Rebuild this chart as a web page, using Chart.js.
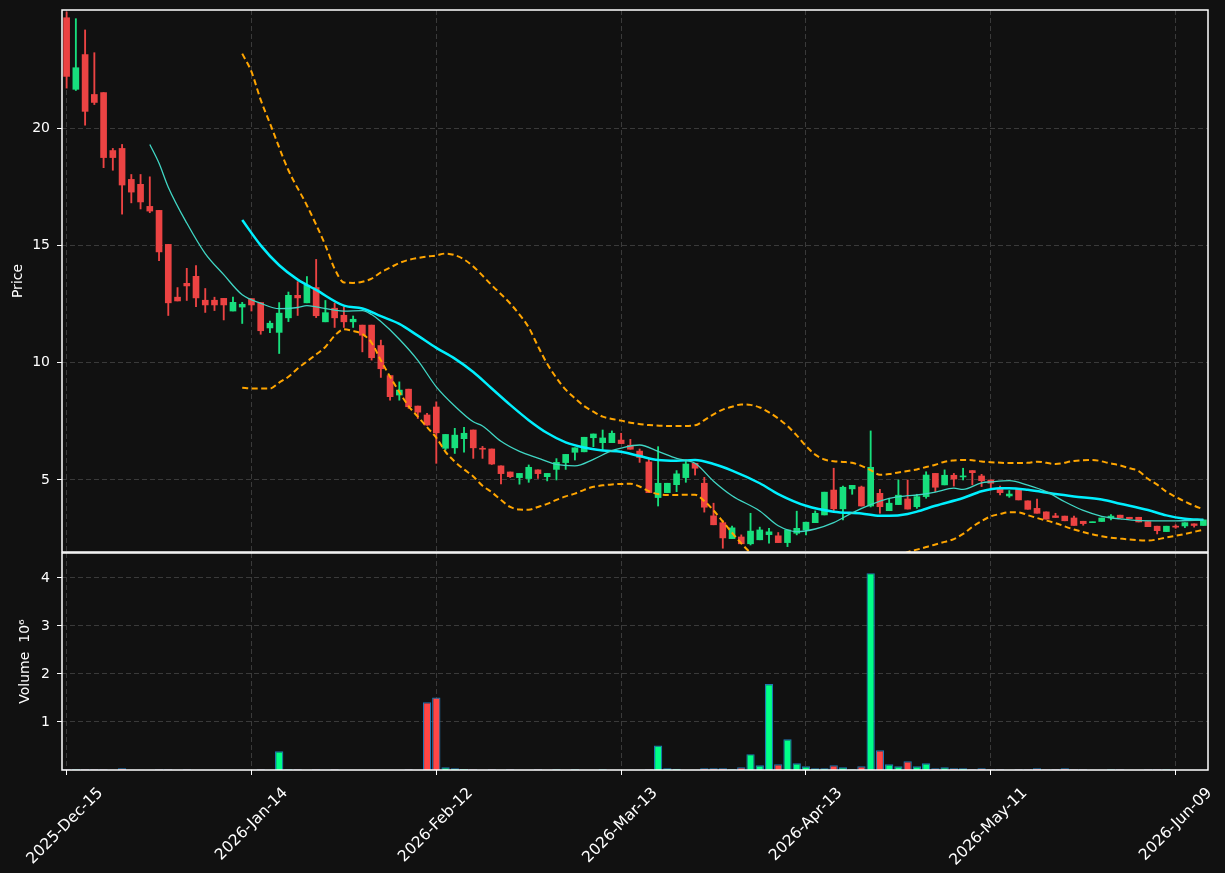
<!DOCTYPE html>
<html>
<head>
<meta charset="utf-8">
<script src="https://cdn.jsdelivr.net/npm/chart.js@4.4.1/dist/chart.umd.min.js"></script>
<style>
  body { margin: 0; background: #111111; }
  #wrap { position: relative; width: 1225px; height: 873px; }
  canvas { position: absolute; left: 0; }
</style>
</head>
<body>
<div id="wrap">
  <canvas id="price" width="1225" height="553" style="top:0"></canvas>
  <canvas id="volume" width="1225" height="321" style="top:552px"></canvas>
</div>
<script>
// --- DATA ---
const opens = [24.70,21.65,23.13,21.43,21.51,19.04,19.13,17.81,17.60,16.66,
  16.49,15.04,12.79,13.38,13.68,12.66,12.66,12.74,12.20,12.37,
  12.73,12.56,11.48,11.29,11.91,12.87,12.55,13.20,11.74,12.32,
  12.02,11.74,11.60,11.60,10.73,9.45,8.62,8.87,8.15,7.77,
  8.11,6.35,6.37,6.76,7.13,6.35,6.32,5.60,5.34,5.10,
  5.06,5.43,5.14,5.45,5.74,6.18,6.20,6.80,6.59,6.59,
  6.70,6.48,6.23,5.77,4.25,4.46,4.80,5.10,5.71,4.86,
  3.47,3.18,2.50,2.57,2.28,2.45,2.67,2.62,2.33,2.73,
  2.87,3.18,3.51,4.57,3.77,4.62,4.70,3.89,4.43,3.69,
  3.95,4.19,3.86,4.29,5.28,4.79,5.20,5.13,5.40,5.17,
  5.00,4.65,4.32,4.62,4.11,3.79,3.64,3.47,3.46,3.38,
  3.24,3.18,3.23,3.38,3.50,3.41,3.41,3.23,3.03,2.80,
  3.03,3.04,3.13,3.06];
const highs = [24.95,24.66,24.18,23.21,21.51,19.13,19.30,18.02,18.02,17.92,
  16.49,15.04,13.20,14.02,14.14,13.16,12.79,12.74,12.79,12.57,
  12.73,12.56,11.77,12.56,13.01,13.45,13.67,14.40,12.65,12.54,
  12.37,11.99,11.60,11.60,10.96,9.45,9.18,8.87,8.15,7.84,
  8.33,6.94,7.20,7.24,7.13,6.43,6.32,5.60,5.34,5.28,
  5.64,5.43,5.28,5.91,6.09,6.37,6.82,6.96,7.13,7.09,
  6.99,6.73,6.32,5.92,6.42,4.86,5.40,5.85,5.71,5.11,
  4.01,3.26,3.04,2.66,3.58,2.99,2.94,2.76,2.87,3.67,
  3.20,3.68,4.48,5.50,4.74,4.77,4.74,7.09,4.60,4.22,
  5.00,5.00,4.39,5.35,5.28,5.43,5.28,5.50,5.40,5.24,
  5.00,4.74,4.55,4.62,4.11,4.19,3.64,3.58,3.46,3.46,
  3.24,3.21,3.38,3.52,3.50,3.41,3.41,3.23,3.03,3.03,
  3.09,3.18,3.13,3.30];
const lows = [21.70,21.60,20.12,21.00,18.31,18.20,16.33,16.81,16.55,16.39,
  14.35,12.01,12.63,12.65,12.39,12.14,12.22,11.82,12.20,11.67,
  12.20,11.21,11.28,10.39,11.75,12.01,12.55,11.92,11.74,11.50,
  11.50,11.50,10.46,10.11,9.37,8.40,8.40,8.05,7.62,7.34,
  5.71,6.28,6.13,6.18,5.92,5.92,5.66,4.83,5.10,4.82,
  4.90,5.07,4.96,5.00,5.45,5.85,6.20,6.42,6.28,6.59,
  6.55,6.31,5.75,4.46,3.89,4.46,4.50,4.90,5.21,3.63,
  3.09,2.09,2.50,2.28,2.23,2.45,2.31,2.33,2.16,2.66,
  2.66,3.18,3.51,3.68,3.30,4.39,3.89,3.85,3.58,3.69,
  3.95,3.76,3.79,4.22,4.50,4.79,4.74,5.00,4.79,4.72,
  4.65,4.36,4.26,4.15,3.75,3.58,3.33,3.40,3.26,3.06,
  3.07,3.18,3.23,3.30,3.38,3.35,3.21,3.01,2.70,2.80,
  2.94,2.97,2.99,3.06];
const closes = [22.20,22.57,20.71,21.09,18.74,18.74,17.57,17.27,16.85,16.46,
  14.72,12.55,12.63,13.27,12.76,12.46,12.46,12.46,12.57,12.49,
  12.46,11.36,11.68,12.11,12.87,12.76,13.30,12.00,12.13,11.91,
  11.74,11.85,11.17,10.21,9.74,8.55,8.83,8.12,7.89,7.34,
  7.01,6.94,6.91,6.99,6.37,6.31,5.68,5.27,5.14,5.28,
  5.54,5.27,5.28,5.75,6.09,6.37,6.82,6.96,6.79,6.99,
  6.55,6.31,5.96,4.46,4.86,4.86,5.26,5.68,5.50,3.84,
  3.09,2.53,2.96,2.28,2.82,2.87,2.79,2.33,2.87,2.94,
  3.20,3.58,4.48,3.77,4.69,4.77,3.89,5.54,3.86,4.01,
  4.35,3.76,4.29,5.21,4.69,5.20,5.04,5.16,5.31,4.97,
  4.86,4.46,4.40,4.15,3.75,3.58,3.33,3.40,3.26,3.06,
  3.14,3.21,3.38,3.46,3.38,3.35,3.21,3.01,2.84,3.03,
  2.99,3.18,3.06,3.30];
// volume in millions
const volumesM = [0.015,0.015,0.015,0.015,0.015,0.003,0.035,0.003,0.003,0.003,
  0.015,0.015,0.003,0.015,0.003,0.003,0.003,0.003,0.003,0.003,
  0.003,0.015,0.003,0.39,0.015,0.015,0.003,0.015,0.003,0.015,
  0.003,0.003,0.003,0.003,0.003,0.003,0.003,0.015,0.003,1.41,
  1.51,0.055,0.035,0.02,0.015,0.003,0.015,0.003,0.015,0.003,
  0.003,0.015,0.003,0.015,0.003,0.015,0.003,0.003,0.015,0.003,
  0.003,0.003,0.003,0.015,0.51,0.035,0.025,0.003,0.003,0.035,
  0.035,0.035,0.015,0.055,0.33,0.10,1.79,0.12,0.64,0.14,
  0.076,0.035,0.035,0.10,0.055,0.015,0.076,4.10,0.41,0.12,
  0.076,0.18,0.076,0.14,0.035,0.055,0.035,0.035,0.015,0.035,
  0.015,0.015,0.003,0.015,0.015,0.035,0.015,0.015,0.035,0.015,
  0.015,0.003,0.003,0.015,0.015,0.003,0.003,0.015,0.015,0.015,
  0.003,0.003,0.003,0.003];

// indicator lines, read as [candle index, value]
const ma10 = [[9,19.30],[10,18.50],[11,17.48],[13,15.95],[15,14.65],[17,13.75],[19,12.89],[21,12.53],
  [23,12.30],[25,12.35],[26,12.43],[27,12.38],[30,12.20],[32,12.22],[33,12.05],[34,11.75],[36,11.0],
  [38,10.1],[40,8.97],[42,8.15],[44,7.48],[45,7.30],[47,6.65],[49,6.22],[51,5.93],[53,5.66],[55,5.60],
  [57,5.88],[59,6.25],[60,6.36],[62,6.49],[64,6.22],[66,5.92],[68,5.71],[70,4.95],[72,4.33],[75,3.68],
  [77,3.05],[79,2.80],[81,2.91],[83,3.18],[85,3.60],[87,3.95],[89,4.22],[91,4.33],[92,4.36],[94,4.48],
  [96,4.65],[97,4.60],[99,4.88],[100,4.92],[102,4.97],[104,4.78],[106,4.50],[108,4.07],[110,3.70],
  [112,3.45],[114,3.34],[116,3.27],[120,3.26],[123,3.30]];
const ma20 = [[19,16.08],[21,15.0],[23,14.15],[25,13.54],[27,13.10],[30,12.43],[32,12.31],[34,11.98],
  [36,11.65],[38,11.15],[40,10.63],[42,10.17],[44,9.6],[46,8.9],[48,8.2],[50,7.55],[52,7.0],[54,6.6],
  [56,6.38],[58,6.26],[60,6.20],[62,6.02],[64,5.85],[66,5.82],[68,5.85],[70,5.68],[72,5.40],[75,4.86],
  [77,4.40],[80,3.90],[83,3.65],[86,3.57],[88,3.47],[89,3.47],[91,3.55],[92,3.65],[94,3.90],[97,4.23],
  [99,4.52],[101,4.65],[102,4.65],[104,4.58],[107,4.40],[109,4.30],[112,4.17],[114,3.99],[117,3.72],
  [119,3.49],[121,3.35],[123,3.30]];
const bbUpper = [[19,23.17],[20,22.4],[21,21.2],[22,20.2],[24,18.2],[26,16.7],[28,15.0],[29,14.0],
  [30,13.42],[31,13.40],[32,13.45],[33,13.58],[34,13.85],[35,14.05],[36,14.25],[37,14.38],[38,14.46],
  [39,14.52],[40,14.57],[41,14.65],[42,14.58],[43,14.40],[44,14.10],[46,13.30],[48,12.52],[49,12.05],
  [50,11.50],[51,10.70],[52,9.95],[53,9.35],[54,8.85],[55,8.48],[56,8.15],[57,7.91],[58,7.70],[59,7.60],
  [60,7.53],[61,7.44],[63,7.34],[66,7.30],[68,7.33],[69,7.55],[70,7.80],[71,8.00],[72,8.12],[73,8.22],
  [74,8.20],[75,8.09],[76,7.88],[77,7.62],[78,7.30],[79,6.90],[80,6.45],[81,6.08],[82,5.87],[83,5.80],
  [84,5.77],[85,5.73],[86,5.60],[87,5.42],[88,5.22],[89,5.25],[90,5.32],[91,5.38],[92,5.45],[93,5.55],
  [94,5.65],[95,5.78],[96,5.83],[97,5.85],[98,5.84],[99,5.79],[100,5.76],[102,5.72],[104,5.73],[105,5.78],
  [107,5.68],[109,5.81],[111,5.85],[113,5.70],[114,5.62],[115,5.50],[116,5.38],[117,5.05],[118,4.80],
  [119,4.50],[120,4.28],[121,4.08],[122,3.90],[123,3.75]];
const bbLower = [[19,8.93],[20,8.90],[21,8.90],[22,8.90],[23,9.15],[24,9.40],[25,9.75],[26,10.05],
  [27,10.35],[28,10.67],[29,11.15],[30,11.42],[31,11.35],[32,11.22],[33,10.85],[34,10.10],[35,9.40],
  [36,8.75],[37,8.15],[38,7.70],[39,7.25],[40,6.80],[41,6.20],[42,5.78],[43,5.45],[44,5.15],[45,4.75],
  [46,4.48],[47,4.15],[48,3.85],[49,3.74],[50,3.73],[51,3.85],[52,3.98],[53,4.15],[54,4.30],[55,4.42],
  [56,4.58],[57,4.71],[58,4.77],[59,4.81],[60,4.83],[61,4.84],[62,4.72],[63,4.52],[64,4.40],[65,4.36],
  [66,4.36],[67,4.37],[68,4.37],[69,4.10],[70,3.70],[71,3.23],[72,2.75],[73,2.30],[74,1.90],[75,1.63],
  [77,1.15],[80,1.40],[82,1.55],[84,1.42],[86,1.55],[88,1.72],[90,1.75],[91,1.92],[92,2.03],[93,2.14],
  [94,2.25],[95,2.36],[96,2.48],[97,2.70],[98,3.00],[99,3.25],[100,3.45],[101,3.55],[102,3.62],
  [103,3.62],[104,3.50],[105,3.38],[107,3.16],[109,2.89],[112,2.60],[114,2.50],[117,2.42],[119,2.55],
  [121,2.70],[123,2.88]];

const tickLabels = ['2025-Dec-15','2026-Jan-14','2026-Feb-12','2026-Mar-13','2026-Apr-13','2026-May-11','2026-Jun-09'];
const priceTicks = [5, 10, 15, 20];
const volumeTicks = [1, 2, 3, 4];

// trading days (NYSE calendar) starting 2025-12-15
const holidays = ['2025-12-25','2026-01-01','2026-01-19','2026-02-16','2026-04-03','2026-05-25'];
const MONTHS = ['Jan','Feb','Mar','Apr','May','Jun','Jul','Aug','Sep','Oct','Nov','Dec'];
const dates = [];
const day = new Date(Date.UTC(2025, 11, 15));
while (dates.length < closes.length) {
  const wd = day.getUTCDay();
  if (wd !== 0 && wd !== 6 && !holidays.includes(day.toISOString().slice(0, 10))) {
    dates.push(day.getUTCFullYear() + '-' + MONTHS[day.getUTCMonth()] + '-' + String(day.getUTCDate()).padStart(2, '0'));
  }
  day.setUTCDate(day.getUTCDate() + 1);
}

// --- STYLE ---
const FONT = 'DejaVu Sans';
const UP = '#17df7d', DOWN = '#ec4343';
const VOL_UP = '#00ff88', VOL_DOWN = '#ff4646';
const GRID = '#3a3a3a';
const isUp = i => closes[i] >= opens[i];

const frame = {
  id: 'frame',
  afterDraw(chart) {
    const { ctx, chartArea: a } = chart;
    ctx.save();
    ctx.strokeStyle = '#ffffff';
    ctx.lineWidth = 1.5;
    ctx.strokeRect(a.left, a.top, a.right - a.left, a.bottom - a.top);
    ctx.restore();
  }
};

// fixed axis boxes, no label overhang padding
const fixBox = (w, h) => s => {
  if (w !== null) s.width = w;
  if (h !== null) s.height = h;
  s.paddingTop = s.paddingBottom = s.paddingLeft = s.paddingRight = 0;
};
const keepDateTicks = s => { s.ticks = s.ticks.filter(t => tickLabels.includes(dates[t.value])); };
const toPoints = arr => arr.map(([i, v]) => ({ x: dates[i], y: v }));

Chart.defaults.font.family = FONT;
Chart.defaults.color = '#ffffff';

const lineDs = (label, arr, color, width, dash) => ({
  type: 'line', label, data: toPoints(arr), borderColor: color, borderWidth: width,
  borderDash: dash || [], pointRadius: 0, cubicInterpolationMode: 'monotone', order: 1
});

// --- PRICE PANEL ---
new Chart(document.getElementById('price'), {
  type: 'bar',
  data: {
    labels: dates,
    datasets: [
      { label: 'wick', data: lows.map((l, i) => [l, highs[i]]), grouped: false, barThickness: 1.2,
        backgroundColor: ctx => isUp(ctx.dataIndex) ? UP : DOWN, order: 11 },
      { label: 'body', data: opens.map((o, i) => [o, closes[i]]), grouped: false, barThickness: 6, minBarLength: 1,
        backgroundColor: ctx => isUp(ctx.dataIndex) ? UP : DOWN, order: 10 },
      lineDs('MA10', ma10, '#40d6c4', 1.3),
      lineDs('MA20', ma20, '#00f0ff', 2.5),
      lineDs('BB upper', bbUpper, '#ffa500', 2, [6, 3.5]),
      lineDs('BB lower', bbLower, '#ffa500', 2, [6, 3.5])
    ]
  },
  options: {
    responsive: false, animation: false, events: [],
    layout: { autoPadding: false, padding: { left: 0, right: 17, top: 10, bottom: 0 } },
    plugins: { legend: { display: false }, tooltip: { enabled: false } },
    scales: {
      x: {
        type: 'category', offset: true,
        afterBuildTicks: keepDateTicks,
        afterFit: fixBox(null, 1),
        ticks: { display: false, autoSkip: false },
        grid: { color: GRID, offset: false, drawTicks: false },
        border: { display: false, dash: [5, 3] }
      },
      y: {
        min: 1.93, max: 25.03,
        afterBuildTicks: s => { s.ticks = priceTicks.map(v => ({ value: v })); },
        afterFit: fixBox(62, null),
        ticks: { color: '#ffffff', font: { size: 14 }, padding: 7 },
        grid: { color: GRID, tickColor: '#ffffff', tickLength: 5 },
        border: { display: false, dash: [5, 3] },
        title: { display: true, text: 'Price', color: '#ffffff', font: { size: 14 }, padding: { top: 9.6, bottom: 0 } }
      }
    }
  },
  plugins: [frame]
});

// --- VOLUME PANEL ---
new Chart(document.getElementById('volume'), {
  type: 'bar',
  data: {
    labels: dates,
    datasets: [{
      label: 'Volume', data: volumesM,
      backgroundColor: ctx => isUp(ctx.dataIndex) ? VOL_UP : VOL_DOWN,
      borderColor: '#1f77b4', borderWidth: 1.2,
      barPercentage: 0.9, categoryPercentage: 1.0
    }]
  },
  options: {
    responsive: false, animation: false, events: [],
    layout: { autoPadding: false, padding: { left: 0, right: 17, top: 1, bottom: 0 } },
    plugins: { legend: { display: false }, tooltip: { enabled: false } },
    scales: {
      x: {
        type: 'category', offset: true,
        afterBuildTicks: keepDateTicks,
        afterFit: fixBox(null, 103),
        ticks: { autoSkip: false, minRotation: 45, maxRotation: 45, color: '#ffffff',
                 font: { size: 15.5 }, labelOffset: 34, padding: 9 },
        grid: { color: GRID, offset: false, tickColor: '#ffffff', tickLength: 5 },
        border: { display: false, dash: [5, 3] }
      },
      y: {
        min: 0, max: 4.52,
        afterBuildTicks: s => { s.ticks = volumeTicks.map(v => ({ value: v })); },
        afterFit: fixBox(62, null),
        ticks: { color: '#ffffff', font: { size: 14 }, padding: 7 },
        grid: { color: GRID, tickColor: '#ffffff', tickLength: 5 },
        border: { display: false, dash: [5, 3] },
        title: { display: true, text: 'Volume  10⁶', color: '#ffffff', font: { size: 14 }, padding: { top: 16.6, bottom: 0 } }
      }
    }
  },
  plugins: [frame]
});
</script>
</body>
</html>
